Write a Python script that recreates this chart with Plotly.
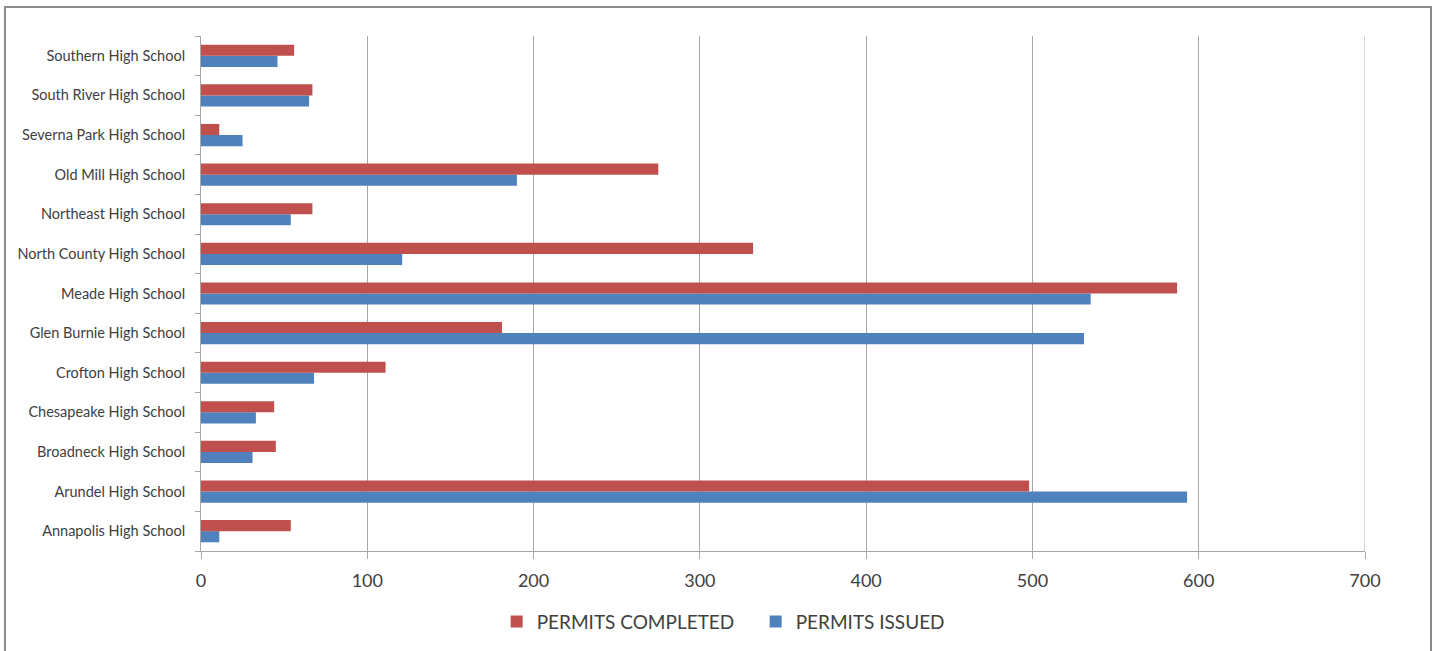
import numpy as np
import plotly.graph_objects as go

schools = [
    "Annapolis High School", "Arundel High School", "Broadneck High School",
    "Chesapeake High School", "Crofton High School", "Glen Burnie High School",
    "Meade High School", "North County High School", "Northeast High School",
    "Old Mill High School", "Severna Park High School", "South River High School",
    "Southern High School",
]
permits_completed = [54, 498, 45, 44, 111, 181, 587, 332, 67, 275, 11, 67, 56]
permits_issued = [11, 593, 31, 33, 68, 531, 535, 121, 54, 190, 25, 65, 46]
x_ticks = [0, 100, 200, 300, 400, 500, 600, 700]

pos = np.arange(len(schools))
RED = "#C0504D"
BLUE = "#4F81BD"
GRID = "#a6a6a6"
TXT = "#404040"
FONT = "Lato"

fig = go.Figure()
fig.add_trace(go.Bar(
    y=pos, x=permits_issued, orientation="h", name="PERMITS ISSUED",
    marker=dict(color=BLUE, line=dict(width=0)),
))
fig.add_trace(go.Bar(
    y=pos, x=permits_completed, orientation="h", name="PERMITS COMPLETED",
    marker=dict(color=RED, line=dict(width=0)),
))

fig.update_layout(
    width=1437, height=651,
    margin=dict(l=201, r=72, t=36, b=99),
    paper_bgcolor="white", plot_bgcolor="white",
    barmode="group", bargap=0.44, bargroupgap=0,
    font=dict(family=FONT, color=TXT),
    showlegend=True,
    legend=dict(
        orientation="h", traceorder="reversed",
        x=0.254, xanchor="left", y=-0.135, yanchor="middle",
        font=dict(size=19, family=FONT, color=TXT),
        itemwidth=30, itemsizing="constant",
        entrywidth=214, entrywidthmode="pixels",
    ),
    xaxis=dict(
        range=[0, 700], tickvals=x_ticks, ticktext=[str(v) for v in x_ticks],
        showgrid=True, gridcolor=GRID, gridwidth=1,
        showline=True, linecolor=GRID, linewidth=1,
        ticks="outside", ticklen=7, tickcolor=GRID,
        tickfont=dict(size=18, family=FONT, color=TXT),
        ticklabelstandoff=6,
        zeroline=False, fixedrange=True,
    ),
    yaxis=dict(
        range=[-0.5, len(schools) - 0.5],
        tickvals=pos, ticktext=schools,
        showgrid=False, zeroline=False,
        showline=True, linecolor=GRID, linewidth=1,
        ticks="", ticklabelstandoff=12,
        tickfont=dict(size=14.5, family=FONT, color=TXT),
        minor=dict(tickvals=list(np.arange(len(schools) + 1) - 0.5),
                   ticks="outside", ticklen=5, tickcolor=GRID, showgrid=False),
    ),
    shapes=[
        dict(
            type="rect", xref="paper", yref="paper",
            x0=-0.1684, x1=1.0567, y0=-0.3, y1=1.0562,
            line=dict(color="#8c8c8c", width=2), fillcolor="rgba(0,0,0,0)",
            layer="below",
        ),
        dict(
            type="line", xref="x", yref="paper",
            x0=x_ticks[-1], x1=x_ticks[-1], y0=0, y1=1,
            line=dict(color=GRID, width=1), layer="below",
        ),
    ],
)

fig.write_html("out.html")
